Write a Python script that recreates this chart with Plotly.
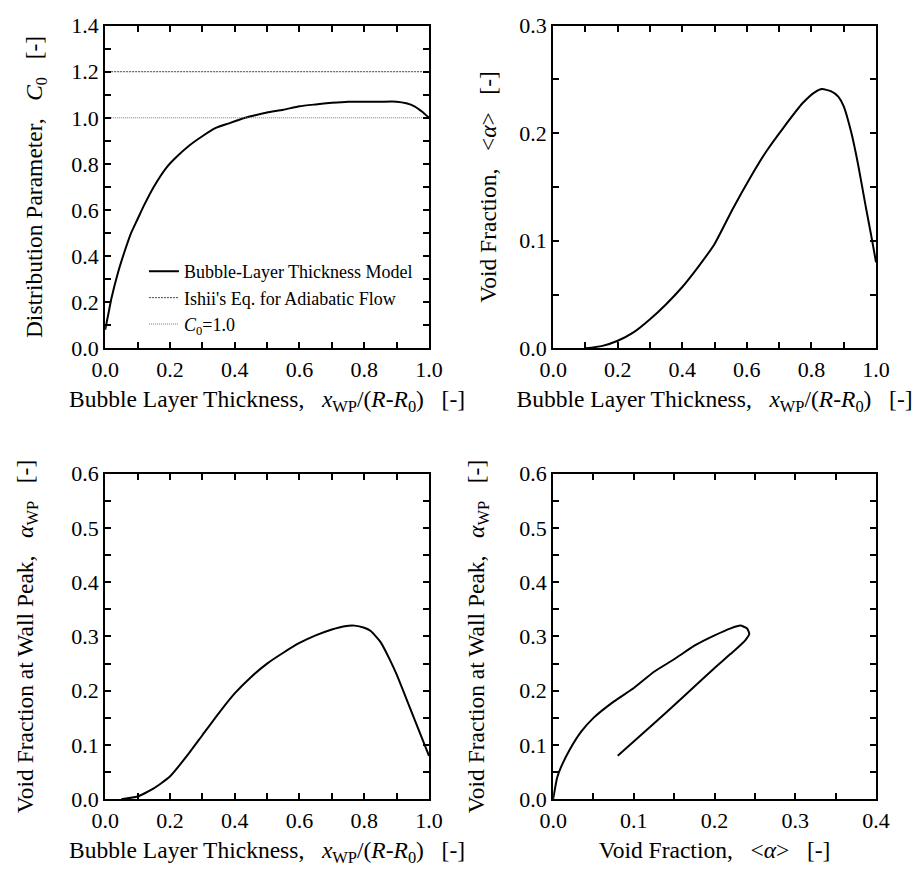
import plotly.graph_objects as go

# ---------------- data ----------------
x_c0 = [0.0, 0.01, 0.02, 0.04, 0.06, 0.08, 0.10, 0.12, 0.15, 0.19, 0.22, 0.26, 0.30,
        0.34, 0.38, 0.42, 0.46, 0.50, 0.55, 0.60, 0.65, 0.70, 0.75, 0.80, 0.85, 0.90,
        0.93, 0.955, 0.98, 1.0]
c0_model = [0.08, 0.15, 0.22, 0.33, 0.42, 0.50, 0.56, 0.62, 0.70, 0.785, 0.83, 0.88, 0.92,
            0.955, 0.975, 0.995, 1.01, 1.023, 1.035, 1.05, 1.058, 1.065, 1.07, 1.07, 1.07, 1.07,
            1.063, 1.05, 1.025, 1.0]
ishii_c0 = 1.2
unit_c0 = 1.0
x_line = [0.0, 1.0]

x_void = [0.10, 0.15, 0.20, 0.25, 0.30, 0.35, 0.40, 0.45, 0.50, 0.557, 0.613, 0.66, 0.713,
          0.773, 0.81, 0.833, 0.86, 0.883, 0.90, 0.923, 0.945, 0.968, 0.985, 1.0]
void_mean = [0.0, 0.002, 0.007, 0.015, 0.027, 0.041, 0.057, 0.076, 0.097, 0.130, 0.160, 0.183,
             0.205, 0.228, 0.238, 0.241, 0.239, 0.234, 0.225, 0.201, 0.170, 0.132, 0.105, 0.08]

x_wp = [0.05, 0.10, 0.15, 0.20, 0.25, 0.30, 0.35, 0.40, 0.45, 0.50, 0.55, 0.60, 0.65, 0.70,
        0.74, 0.77, 0.80, 0.82, 0.85, 0.88, 0.90, 0.95, 1.0]
void_wp = [0.0, 0.005, 0.02, 0.042, 0.078, 0.118, 0.158, 0.195, 0.225, 0.25, 0.27, 0.288, 0.302,
           0.313, 0.319, 0.32, 0.316, 0.31, 0.29, 0.256, 0.23, 0.155, 0.08]

loop_mean = [0.0, 0.005, 0.01, 0.02, 0.035, 0.05, 0.075, 0.10, 0.125, 0.15, 0.175, 0.20, 0.22,
             0.232, 0.24, 0.243, 0.238, 0.22, 0.20, 0.16, 0.12, 0.08]
loop_wp = [0.0, 0.04, 0.06, 0.09, 0.125, 0.15, 0.18, 0.205, 0.235, 0.258, 0.283, 0.302, 0.315,
           0.32, 0.315, 0.305, 0.293, 0.268, 0.242, 0.187, 0.133, 0.08]

# ---------------- figure ----------------
FONT = "Times New Roman, Liberation Serif, DejaVu Serif, serif"
W, H = 923, 891
NB = "\u00a0"

def dom_x(a, b):
    return [a / W, b / W]

def dom_y(top, bottom):
    return [1 - bottom / H, 1 - top / H]

fig = go.Figure()
line_main = dict(color="black", width=2, shape="spline", smoothing=0.5)

fig.add_trace(go.Scatter(x=x_c0, y=c0_model, mode="lines", line=line_main,
                         name="Bubble-Layer Thickness Model", xaxis="x", yaxis="y"))
fig.add_trace(go.Scatter(x=x_line, y=[ishii_c0] * 2, mode="lines",
                         line=dict(color="#444444", width=1, dash="2px,1px"),
                         name="Ishii's Eq. for Adiabatic Flow", xaxis="x", yaxis="y"))
fig.add_trace(go.Scatter(x=x_line, y=[unit_c0] * 2, mode="lines",
                         line=dict(color="#777777", width=1, dash="1px,1px"),
                         name="<i>C</i><sub>0</sub>=1.0", xaxis="x", yaxis="y"))
fig.add_trace(go.Scatter(x=x_void, y=void_mean, mode="lines", line=line_main,
                         showlegend=False, xaxis="x2", yaxis="y2"))
fig.add_trace(go.Scatter(x=x_wp, y=void_wp, mode="lines", line=line_main,
                         showlegend=False, xaxis="x3", yaxis="y3"))
fig.add_trace(go.Scatter(x=loop_mean, y=loop_wp, mode="lines", line=line_main,
                         showlegend=False, xaxis="x4", yaxis="y4"))

tickfont = dict(family=FONT, size=22, color="black")
titlefont = dict(family=FONT, size=23.5, color="black")

def ax(domain, anchor, rng, dtick, mdtick, title, standoff):
    return dict(domain=domain, anchor=anchor, range=rng, dtick=dtick, tick0=0,
                tickformat=".1f", ticks="inside", ticklen=6, tickwidth=1.5, tickcolor="black",
                minor=dict(dtick=mdtick, tick0=0, ticks="inside", ticklen=6, tickwidth=1.5,
                           tickcolor="black", showgrid=False),
                showline=True, linecolor="black", linewidth=2, mirror="allticks",
                showgrid=False, zeroline=False, tickfont=tickfont,
                title=dict(text=title, font=titlefont, standoff=standoff))

xt_thick = ("Bubble Layer Thickness," + NB * 3 + "<i>x</i><sub>WP</sub>/(<i>R</i>-<i>R</i><sub>0</sub>)"
            + NB * 3 + "[-]")
yt_c0 = "Distribution Parameter," + NB * 3 + "<i>C</i><sub>0</sub>" + NB * 3 + "[-]" + NB * 6
yt_void = "Void Fraction," + NB * 3 + "&lt;<i>α</i>&gt;" + NB * 3 + "[-]" + NB * 5
yt_wp = "Void Fraction at Wall Peak," + NB * 3 + "<i>α</i><sub>WP</sub>" + NB * 3 + "[-]" + NB * 7
xt_void = "Void Fraction," + NB * 3 + "&lt;<i>α</i>&gt;" + NB * 3 + "[-]"

L1, R1 = 94, 428
L2, R2 = 556, 889
T1, B1 = 14, 346
T2, B2 = 475, 810

fig.update_layout(
    width=W, height=H, margin=dict(l=0, r=0, t=0, b=0),
    paper_bgcolor="white", plot_bgcolor="white",
    font=dict(family=FONT, color="black"),
    xaxis=ax(dom_x(L1, R1), "y", [0, 1], 0.2, 0.1, xt_thick, 10),
    yaxis=ax(dom_y(T1, B1), "x", [0, 1.4], 0.2, 0.1, yt_c0, 22),
    xaxis2=ax(dom_x(L2, R2), "y2", [0, 1], 0.2, 0.1, xt_thick, 10),
    yaxis2=ax(dom_y(T1, B1), "x2", [0, 0.3], 0.1, 0.05, yt_void, 16),
    xaxis3=ax(dom_x(L1, R1), "y3", [0, 1], 0.2, 0.1, xt_thick, 10),
    yaxis3=ax(dom_y(T2, B2), "x3", [0, 0.6], 0.1, 0.05, yt_wp, 31),
    xaxis4=ax(dom_x(L2, R2), "y4", [0, 0.4], 0.1, 0.05, xt_void, 10),
    yaxis4=ax(dom_y(T2, B2), "x4", [0, 0.6], 0.1, 0.05, yt_wp, 28),
    legend=dict(x=134 / W, y=1 - 248 / H, xanchor="left", yanchor="top",
                bgcolor="rgba(0,0,0,0)", borderwidth=0,
                font=dict(family=FONT, size=18, color="black"),
                tracegroupgap=0, itemwidth=30),
    showlegend=True,
)

fig.write_html("out.html")
